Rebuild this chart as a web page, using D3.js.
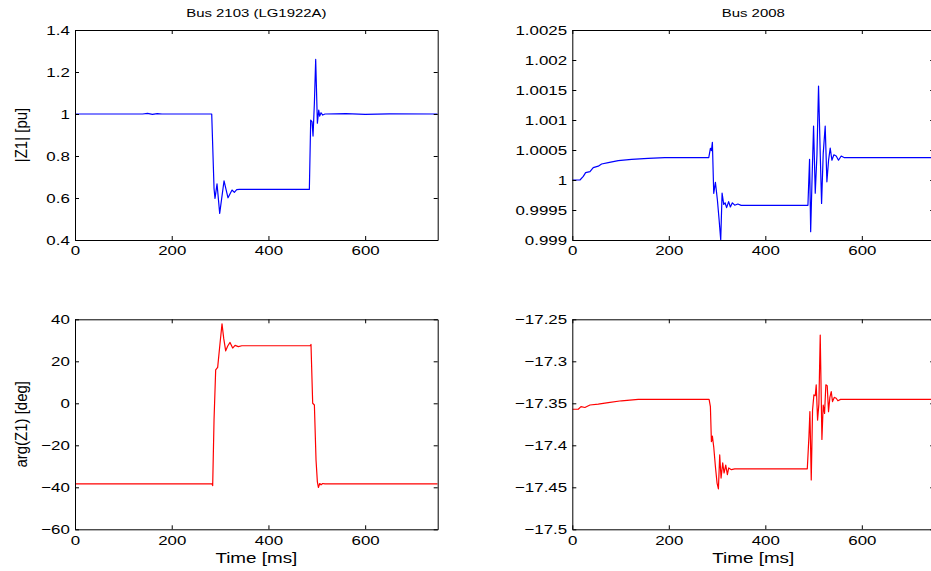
<!DOCTYPE html>
<html>
<head>
<meta charset="utf-8">
<script src="https://cdn.jsdelivr.net/npm/d3@7/dist/d3.min.js"></script>
<style>
  html, body { margin: 0; padding: 0; background: #fff; }
  svg { display: block; }
  text { font-family: "Liberation Sans", Arial, Helvetica, sans-serif; fill: #000; }
</style>
</head>
<body>
<svg id="chart" width="931" height="571"></svg>
<script>
// ---------------- data ----------------
const titles = ["Bus 2103 (LG1922A)", "Bus 2008"];
const yLabels = ["|Z1| [pu]", "arg(Z1) [deg]"];
const xLabel = "Time [ms]";
const xTicks = [0, 200, 400, 600];

// |Z1| at Bus 2103
const tZ2103 = [0, 140, 150, 160, 170, 180, 282.7, 287.5, 289.5, 293.7, 299.2, 308.2, 316.4, 324.7, 329.5, 334.4, 340, 484.6, 487.4, 490.2, 492.2, 495, 497.7, 501.2, 504, 506, 508.8, 512.2, 517, 560, 600, 650, 750];
const vZ2103 = [1, 1, 1.003, 0.998, 1.002, 1, 1, 0.646, 0.598, 0.667, 0.527, 0.682, 0.601, 0.638, 0.627, 0.640, 0.641, 0.641, 0.971, 0.963, 0.895, 1.051, 1.26, 0.956, 1.019, 0.99, 1.006, 0.995, 1.0, 1.002, 0.998, 1.001, 1.0];

// |Z1| at Bus 2008
const tZ2008 = [0, 15.9, 22.8, 27.6, 36.6, 43.4, 53.8, 60.7, 74.5, 95.2, 122.8, 157, 191.7, 282.8, 286.2, 288.3, 290.3, 293.1, 296.6, 300.7, 304.1, 307.6, 310.4, 313.8, 316.6, 319.8, 324, 327.6, 331.7, 336.6, 343, 350, 488.3, 491.7, 494, 496.6, 500, 503.5, 507, 510.3, 513.8, 516.6, 520, 524.1, 527.6, 531.1, 534.5, 538, 542.1, 546.9, 551.7, 557.3, 564, 750];
const vZ2008 = [1.0, 1.0, 1.00006, 1.000122, 1.00014, 1.000206, 1.00023, 1.000267, 1.00029, 1.000322, 1.000344, 1.00036, 1.000372, 1.000372, 1.000528, 1.00049, 1.000628, 0.999778, 0.99996, 0.999667, 0.99935, 0.999, 0.99978, 0.999595, 0.99962, 0.99954, 0.99964, 0.99955, 0.99962, 0.99958, 0.9996, 0.999578, 0.999578, 1.000345, 0.999139, 0.99994, 1.0009, 0.99978, 1.000417, 1.001567, 1.00044, 0.99961, 1.00044, 1.0009, 0.99997, 1.00033, 1.00053, 1.00033, 1.00042, 1.0004, 1.00033, 1.0004, 1.000372, 1.000372];

// arg(Z1) at Bus 2103
const tA2103 = [0, 283.3, 284.7, 287.5, 290.9, 295, 299.9, 304, 307.5, 311.6, 315.8, 320.6, 326, 331, 337.8, 345, 486, 488, 491.5, 495, 498.4, 501.2, 503.3, 506, 508.8, 512.2, 517, 750];
const vA2103 = [-38.4, -38.4, -39.2, -7.95, 15.9, 17.1, 28.6, 37.8, 30.9, 25.0, 27.3, 29.0, 26.3, 27.6, 27.0, 27.4, 27.4, 28.0, 0, -0.8, -27, -37.4, -40.1, -38.2, -38.8, -38.2, -38.4, -38.4];

// arg(Z1) at Bus 2008
const tA2008 = [0, 12.4, 18, 26, 36.6, 53.8, 74.5, 102, 136.6, 283.5, 286.2, 288.3, 290.3, 293.1, 296.6, 300, 302.8, 305.5, 308.3, 311.7, 314.5, 318, 321.4, 324.1, 329.7, 336.6, 487, 490.4, 492.4, 495.2, 497.9, 500.7, 503.5, 505.5, 508.3, 511, 513.8, 517.3, 520, 522.8, 525.5, 528.3, 531, 533.8, 536.6, 539.3, 542.8, 546.9, 550.4, 556, 750];
const vA2008 = [-17.3571, -17.3571, -17.354, -17.355, -17.352, -17.351, -17.3493, -17.347, -17.3453, -17.3453, -17.354, -17.3957, -17.389, -17.402, -17.4255, -17.445, -17.452, -17.4115, -17.439, -17.421, -17.433, -17.4235, -17.435, -17.427, -17.429, -17.428, -17.428, -17.3897, -17.3599, -17.4413, -17.358, -17.34, -17.341, -17.328, -17.37, -17.351, -17.2687, -17.393, -17.352, -17.362, -17.328, -17.329, -17.36, -17.343, -17.3361, -17.348, -17.343, -17.344, -17.347, -17.3453, -17.3453];

// y ticks per panel
const yTicksZ2103 = [0.4, 0.6, 0.8, 1, 1.2, 1.4];
const yTicksZ2008 = [0.999, 0.9995, 1, 1.0005, 1.001, 1.0015, 1.002, 1.0025];
const yTicksA2103 = [-60, -40, -20, 0, 20, 40];
const yTicksA2008 = [-17.5, -17.45, -17.4, -17.35, -17.3, -17.25];

// ---------------- layout ----------------
const SX = 1.3; // horizontal stretch of the original raster text
const colX = [[75, 437.7], [572.3, 934.2]];
const rowY = [[30, 240], [319.3, 529.3]];
const BLUE = "#0000ff", RED = "#ff0000";

const panels = [
  { col: 0, row: 0, t: tZ2103, v: vZ2103, dom: [0.4, 1.4], ticks: yTicksZ2103, color: BLUE },
  { col: 1, row: 0, t: tZ2008, v: vZ2008, dom: [0.999, 1.0025], ticks: yTicksZ2008, color: BLUE },
  { col: 0, row: 1, t: tA2103, v: vA2103, dom: [-60, 40], ticks: yTicksA2103, color: RED },
  { col: 1, row: 1, t: tA2008, v: vA2008, dom: [-17.5, -17.25], ticks: yTicksA2008, color: RED }
];

const svg = d3.select("#chart");
const fmt = d => (d < 0 ? "\u2212" + String(-d) : String(d));

panels.forEach((p, i) => {
  const [x0, x1] = colX[p.col];
  const [y0, y1] = rowY[p.row];
  const x = d3.scaleLinear().domain([0, 750]).range([x0, x1]);
  const y = d3.scaleLinear().domain(p.dom).range([y1, y0]);
  const g = svg.append("g");

  const clipId = "clip" + i;
  g.append("clipPath").attr("id", clipId).append("rect")
    .attr("x", x0).attr("y", y0).attr("width", x1 - x0).attr("height", y1 - y0);

  const pts = p.t.map((t, k) => [t, p.v[k]]);
  g.append("path")
    .datum(pts)
    .attr("clip-path", `url(#${clipId})`)
    .attr("fill", "none")
    .attr("stroke", p.color)
    .attr("stroke-width", 1.2)
    .attr("stroke-linejoin", "round")
    .attr("d", d3.line().x(d => x(d[0])).y(d => y(d[1])));

  // axes (MATLAB style: box with inward ticks on all sides)
  const bottom = g.append("g").attr("transform", `translate(0,${y1})`)
    .call(d3.axisBottom(x).tickValues(xTicks).tickSizeInner(-4).tickSizeOuter(0).tickPadding(6).tickFormat(fmt));
  const top = g.append("g").attr("transform", `translate(0,${y0})`)
    .call(d3.axisTop(x).tickValues(xTicks).tickSizeInner(-4).tickSizeOuter(0).tickFormat(""));
  const left = g.append("g").attr("transform", `translate(${x0},0)`)
    .call(d3.axisLeft(y).tickValues(p.ticks).tickSizeInner(-4).tickSizeOuter(0).tickPadding(4).tickFormat(fmt));
  const right = g.append("g").attr("transform", `translate(${x1},0)`)
    .call(d3.axisRight(y).tickValues(p.ticks).tickSizeInner(-4).tickSizeOuter(0).tickFormat(""));

  [bottom, top, left, right].forEach(a => {
    a.select(".domain").attr("stroke", "#000").attr("stroke-width", 1);
    a.selectAll(".tick line").attr("stroke", "#000").attr("stroke-width", 1);
    a.selectAll("text").attr("font-size", 13).attr("font-family", null).attr("fill", "#000")
      .attr("transform", `scale(${SX},1)`);
  });

  if (p.row === 0) {
    svg.append("text").attr("transform", `translate(${(x0 + x1) / 2},17) scale(${SX},1)`)
      .attr("text-anchor", "middle").attr("font-size", 11.5).text(titles[p.col]);
  } else {
    svg.append("text").attr("transform", `translate(${(x0 + x1) / 2},563) scale(${SX},1)`)
      .attr("text-anchor", "middle").attr("font-size", 14.5).text(xLabel);
  }
  if (p.col === 0) {
    svg.append("text")
      .attr("transform", `translate(27,${(y0 + y1) / 2}) rotate(-90) scale(1,1.1)`)
      .attr("text-anchor", "middle").attr("font-size", 15).text(yLabels[p.row]);
  }
});
</script>
</body>
</html>
